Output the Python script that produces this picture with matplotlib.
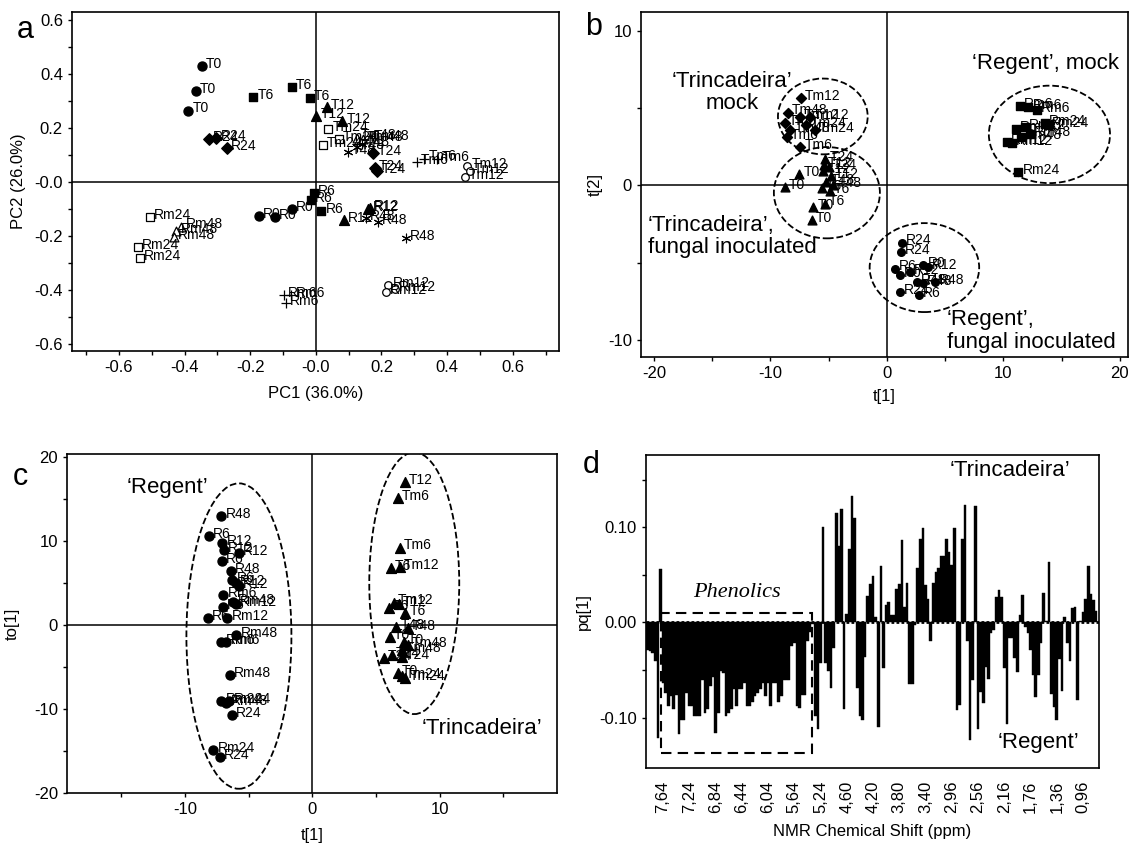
import matplotlib.pyplot as plt
import numpy as np
from matplotlib.patches import Ellipse, Rectangle

plt.rcParams['font.family'] = ['Liberation Sans', 'DejaVu Sans']
plt.rcParams['axes.linewidth'] = 1.2

# ---------------- panel a: PCA scores ----------------
a_labels = ["T0", "T0", "T0", "T6", "T6", "T6", "T12", "T12", "T12",
            "R24", "R24", "R24", "Rm24", "Rm24", "Rm24", "Rm48", "Rm48", "Rm48",
            "R0", "R0", "R0", "R6", "R6", "R6", "Rm6", "Rm6", "Rm6",
            "R12", "R12", "R12", "R48", "R48", "R48", "Rm12", "Rm12", "Rm12",
            "Tm24", "Tm24", "Tm24", "Tm48", "Tm48", "Tm48", "T48", "T48", "T48",
            "T24", "T24", "T24", "Tm6", "Tm6", "Tm6", "Tm12", "Tm12", "Tm12"]
a_x = [-0.348, -0.366, -0.388, -0.191, -0.073, -0.019, 0.002, 0.033, 0.081,
       -0.325, -0.303, -0.272, -0.506, -0.542, -0.537, -0.410, -0.425, -0.432,
       -0.173, -0.125, -0.074, -0.005, -0.015, 0.017, -0.098, -0.091, -0.075,
       0.160, 0.165, 0.085, 0.152, 0.188, 0.274, 0.221, 0.213, 0.240,
       0.038, 0.022, 0.070, 0.125, 0.145, 0.165, 0.098, 0.125, 0.140,
       0.175, 0.180, 0.187, 0.307, 0.330, 0.370, 0.462, 0.454, 0.470]
a_y = [0.431, 0.337, 0.265, 0.316, 0.351, 0.312, 0.246, 0.277, 0.226,
       0.160, 0.164, 0.127, -0.128, -0.242, -0.283, -0.165, -0.180, -0.205,
       -0.126, -0.131, -0.100, -0.040, -0.067, -0.106, -0.419, -0.447, -0.418,
       -0.101, -0.095, -0.141, -0.135, -0.147, -0.209, -0.381, -0.409, -0.395,
       0.195, 0.137, 0.160, 0.165, 0.160, 0.163, 0.112, 0.130, 0.140,
       0.106, 0.051, 0.040, 0.073, 0.087, 0.085, 0.060, 0.020, 0.040]

# ---------------- panel b: PLS-DA scores ----------------
b_labels = ["Tm12", "Tm48", "Tm12", "Tm12", "Tm6", "Tm48", "Tm24", "Tm24", "Tm6", "Tm6",
            "T0", "T0", "T0", "T0", "T6", "T24", "T24", "T12", "T12", "T48", "T48", "T6", "T6", "T12",
            "Rm6", "Rm6", "Rm6", "Rm48", "Rm12", "Rm24", "Rm24", "Rm12", "Rm12", "Rm48", "Rm48", "Rm24",
            "R24", "R24", "R6", "R0", "R0", "R12", "R48", "R48", "R48", "R24", "R6", "R12"]
b_x = [-7.4, -8.5, -7.5, -6.6, -8.75, -8.3, -6.9, -6.2, -8.6, -7.45,
       -8.76, -7.52, -6.32, -6.46, -5.32, -5.3, -5.0, -5.5, -4.8, -5.2, -4.6, -5.6, -4.9, -5.4,
       11.42, 12.13, 12.85, 11.07, 11.85, 13.56, 13.80, 10.27, 10.70, 11.50, 12.30, 11.28,
       1.26, 1.20, 0.69, 1.12, 3.12, 3.50, 2.55, 3.10, 4.12, 1.12, 2.75, 2.00]
b_y = [5.65, 4.7, 4.4, 4.4, 4.0, 3.55, 3.9, 3.6, 3.1, 2.47,
       -0.1, 0.75, -1.4, -2.26, -1.18, 1.7, 1.2, 0.9, 0.6, 0.2, 0.0, -0.2, -0.4, 1.3,
       5.10, 5.05, 4.88, 3.66, 3.76, 4.02, 3.87, 2.80, 2.73, 3.10, 3.30, 0.86,
       -3.70, -4.30, -5.38, -5.80, -5.16, -5.30, -6.24, -6.30, -6.24, -6.92, -7.10, -5.60]

# ---------------- panel c: OPLS-DA scores ----------------
c_labels = ["R48", "R6", "R12", "R12", "R12", "R6", "R48", "R6", "R12", "R12", "Rm6", "Rm48",
            "Rm12", "R6", "R6", "Rm12", "Rm48", "Rm6", "Rm6", "Rm48", "Rm24", "Rm48", "Rm24",
            "R24", "Rm24", "R24",
            "T12", "Tm6", "Tm6", "T6", "Tm12", "T6", "Tm12", "T12", "T6", "T48", "T48", "T0",
            "T0", "Tm48", "Tm48", "T24", "T24", "T24", "T0", "Tm24", "Tm24"]
c_x = [-7.14, -8.13, -7.06, -6.93, -5.75, -7.08, -6.40, -6.27, -6.00, -5.75, -6.98, -6.20,
       -6.00, -7.00, -8.18, -6.67, -5.96, -7.14, -6.75, -6.46, -7.14, -6.75, -6.50,
       -6.30, -7.76, -7.27,
       7.24, 6.72, 6.85, 6.16, 6.85, 6.00, 6.40, 6.80, 7.30, 6.60, 7.50, 6.06,
       7.20, 7.50, 7.00, 5.60, 6.25, 7.03, 6.72, 7.00, 7.30]
c_y = [13.0, 10.6, 9.8, 9.0, 8.6, 7.6, 6.5, 5.4, 5.0, 4.7, 3.57, 2.8,
       2.5, 2.2, 0.8, 0.9, -1.2, -2.06, -2.06, -5.95, -9.05, -9.25, -9.05,
       -10.7, -14.9, -15.7,
       17.06, 15.1, 9.25, 6.8, 6.94, 2.0, 2.7, 2.5, 1.4, -0.2, -0.3, -1.47,
       -2.0, -2.4, -3.0, -3.97, -3.57, -3.85, -5.75, -6.1, -6.3]

# ---------------- panel d: loadings ----------------
d_ticklabels = ["7,64", "7,24", "6,84", "6,44", "6,04", "5,64", "5,24", "4,60", "4,20",
                "3,80", "3,40", "2,96", "2,56", "2,16", "1,76", "1,36", "0,96"]
d_values = [
    -0.029, -0.030, -0.032, -0.041, -0.121, 0.056, -0.064, -0.074, -0.088, -0.077,
    -0.091, -0.076, -0.117, -0.103, -0.103, -0.074, -0.088, -0.088, -0.098, -0.098,
    -0.098, -0.060, -0.095, -0.091, -0.067, -0.057, -0.116, -0.095, -0.051, -0.053,
    -0.098, -0.095, -0.091, -0.070, -0.088, -0.070, -0.070, -0.064, -0.088, -0.088,
    -0.084, -0.077, -0.074, -0.070, -0.064, -0.077, -0.064, -0.088, -0.064, -0.064,
    -0.084, -0.077, -0.060, -0.060, -0.060, -0.025, -0.022, -0.088, -0.090, -0.076,
    -0.076, -0.020, -0.010, -0.002, -0.098, -0.112, -0.043, 0.100, -0.043, -0.051,
    -0.069, -0.027, 0.115, 0.080, 0.119, -0.091, 0.009, 0.077, 0.133, 0.110,
    -0.069, -0.098, -0.103, -0.036, 0.028, 0.040, 0.049, 0.006, -0.110, 0.059,
    -0.048, 0.018, 0.022, 0.008, 0.008, 0.035, 0.040, 0.087, 0.016, 0.041,
    -0.065, -0.065, -0.003, 0.057, 0.088, 0.099, 0.039, 0.025, -0.019, 0.041,
    0.053, 0.057, 0.070, 0.070, 0.088, 0.074, 0.060, 0.099, -0.092, -0.087,
    0.088, 0.123, -0.019, -0.124, -0.060, 0.122, -0.112, -0.073, -0.085, -0.047,
    -0.059, -0.011, -0.008, 0.027, 0.034, 0.027, -0.048, -0.107, -0.016, -0.016,
    -0.037, -0.052, 0.008, 0.029, -0.005, -0.011, -0.029, -0.055, -0.078, -0.055,
    -0.022, 0.031, 0.002, 0.064, -0.075, -0.089, -0.103, -0.038, -0.072, 0.006,
    -0.022, -0.041, 0.015, 0.016, -0.082, 0.002, 0.011, 0.025, 0.059, 0.030,
    0.024, 0.012]

fig = plt.figure(figsize=(11.3, 8.47), dpi=100)
ax_a = fig.add_axes([0.0637, 0.5856, 0.431, 0.4002])
ax_b = fig.add_axes([0.5673, 0.5785, 0.431, 0.4073])
ax_c = fig.add_axes([0.0593, 0.0638, 0.4336, 0.4002])
ax_d = fig.add_axes([0.5717, 0.0933, 0.4009, 0.3695])

filled = dict(facecolors="black", edgecolors="black")
hollow = dict(facecolors="white", edgecolors="black", linewidths=0.9)
a_style = {
    "0": dict(marker="o", s=42, **filled),
    "6": dict(marker="s", s=38, **filled),
    "12": dict(marker="^", s=50, **filled),
    "24": dict(marker="D", s=34, **filled),
    "48": dict(marker=(6, 2, 0), s=40, c="black", linewidths=0.8),
    "m6": dict(marker="+", s=45, c="black", linewidths=0.9),
    "m12": dict(marker="o", s=30, **hollow),
    "m24": dict(marker="s", s=34, **hollow),
    "m48": dict(marker="^", s=40, **hollow),
}


def scatter_labeled(ax, xs, ys, labels, style_of):
    for x, y, lab in zip(xs, ys, labels):
        ax.scatter([x], [y], zorder=3, **style_of(lab))
        ax.annotate(lab, (x, y), xytext=(3, 1.5), textcoords="offset points",
                    fontsize=10, va="center", ha="left", zorder=4)


def frame(ax):
    ax.axhline(0, color="black", lw=1.1, zorder=1)
    ax.axvline(0, color="black", lw=1.1, zorder=1)
    ax.tick_params(direction="out", length=3, width=1, labelsize=12)


# panel a
scatter_labeled(ax_a, a_x, a_y, a_labels, lambda l: a_style[l[1:]])
frame(ax_a)
ax_a.set_xlim(-0.743, 0.741)
ax_a.set_ylim(-0.626, 0.63)
a_ticks = [round(v, 1) for v in np.arange(-0.7, 0.71, 0.1)]
ax_a.set_xticks(a_ticks, ["" if int(round(abs(v) * 10)) % 2 else ("-0.0" if v == 0 else f"{v:.1f}") for v in a_ticks])
a_yt = [round(v, 1) for v in np.arange(-0.6, 0.61, 0.1)]
ax_a.set_yticks(a_yt, ["" if int(round(abs(v) * 10)) % 2 else ("-0.0" if v == 0 else f"{v:.1f}") for v in a_yt])
ax_a.set_xlabel("PC1 (36.0%)", fontsize=12, labelpad=8)
ax_a.set_ylabel("PC2 (26.0%)", fontsize=12, labelpad=6)

# panel b
b_style = {"Tm": dict(marker="D", s=26, **filled), "T": dict(marker="^", s=40, **filled),
           "Rm": dict(marker="s", s=30, **filled), "R": dict(marker="o", s=30, **filled)}
scatter_labeled(ax_b, b_x, b_y, b_labels,
                lambda l: b_style[l[:2]] if l[1] == "m" else b_style[l[0]])
frame(ax_b)
ax_b.set_xlim(-21.1, 20.7)
ax_b.set_ylim(-11.1, 11.2)
ax_b.set_xticks([-20, -15, -10, -5, 0, 5, 10, 15, 20], ["-20", "", "-10", "", "0", "", "10", "", "20"])
ax_b.set_yticks([-10, -5, 0, 5, 10], ["-10", "", "0", "", "10"])
for cx, cy, w, h in [(-5.5, 4.45, 7.7, 4.9), (-5.15, -0.48, 9.1, 5.9),
                     (13.95, 3.29, 10.4, 6.3), (3.22, -5.32, 9.4, 5.75)]:
    ax_b.add_patch(Ellipse((cx, cy), w, h, fill=False, ls="--", lw=1.3, color="black"))
ax_b.text(-13.3, 6.0, "\u2018Trincadeira\u2019\nmock", fontsize=16, ha="center", va="center",
          linespacing=1.1)
ax_b.text(-20.5, -3.3, "\u2018Trincadeira\u2019,\nfungal inoculated", fontsize=16, ha="left",
          va="center", linespacing=1.1)
ax_b.text(13.6, 7.9, "\u2018Regent\u2019, mock", fontsize=16, ha="center", va="center")
ax_b.text(5.15, -9.4, "\u2018Regent\u2019,\nfungal inoculated", fontsize=16, ha="left",
          va="center", linespacing=1.1)
ax_b.set_xlabel("t[1]", fontsize=12, labelpad=6)
ax_b.set_ylabel("t[2]", fontsize=12, labelpad=4)

# panel c
c_style = {"R": dict(marker="o", s=42, **filled), "T": dict(marker="^", s=50, **filled)}
scatter_labeled(ax_c, c_x, c_y, c_labels, lambda l: c_style[l[0]])
frame(ax_c)
ax_c.set_xlim(-19.25, 19.2)
ax_c.set_ylim(-20, 20.4)
ax_c.set_xticks([-15, -10, -5, 0, 5, 10, 15], ["", "-10", "", "0", "", "10", ""])
ax_c.set_yticks([-20, -15, -10, -5, 0, 5, 10, 15, 20], ["-20", "", "-10", "", "0", "", "10", "", "20"])
ax_c.add_patch(Ellipse((-5.76, -1.3), 8.24, 36.4, fill=False, ls="--", lw=1.3, color="black"))
ax_c.add_patch(Ellipse((8.0, 5.0), 7.06, 31.2, fill=False, ls="--", lw=1.3, color="black"))
ax_c.text(-11.4, 16.4, "\u2018Regent\u2019", fontsize=16, ha="center", va="center")
ax_c.text(13.3, -12.3, "\u2018Trincadeira\u2019", fontsize=16, ha="center", va="center")
ax_c.set_xlabel("t[1]", fontsize=12, labelpad=8)
ax_c.set_ylabel("to[1]", fontsize=12, labelpad=10)

# panel d
idx = np.arange(len(d_values))
ax_d.bar(idx, d_values, width=1.0, color="black", edgecolor="black", linewidth=0.3, zorder=2)
ax_d.axhline(0, color="black", lw=2, ls=(0, (1, 0.8)), zorder=3)
ax_d.set_xlim(-0.5, 172.1)
ax_d.set_ylim(-0.153, 0.176)
ax_d.set_xticks(6 + 10 * np.arange(len(d_ticklabels)), d_ticklabels, rotation=90)
ax_d.set_yticks([-0.10, -0.05, 0.0, 0.05, 0.10, 0.15], ["-0.10", "", "0.00", "", "0.10", ""])
ax_d.tick_params(axis="y", direction="out", length=3, width=1, labelsize=12)
ax_d.tick_params(axis="x", length=0, labelsize=12, pad=9)
ax_d.add_patch(Rectangle((5.1, -0.137), 57.7, 0.147, fill=False, ls=(0, (5, 3)), lw=1.5,
                         color="black", zorder=4))
ax_d.text(34, 0.031, "Phenolics", fontsize=16, ha="center", va="center",
          family="Liberation Serif", style="italic")
ax_d.text(138, 0.160, "\u2018Trincadeira\u2019", fontsize=16, ha="center", va="center")
ax_d.text(149, -0.126, "\u2018Regent\u2019", fontsize=16, ha="center", va="center")
ax_d.set_xlabel("NMR Chemical Shift (ppm)", fontsize=12, labelpad=8)
ax_d.set_ylabel("pq[1]", fontsize=12, labelpad=6)

for ax, letter, lx, ly in [(ax_a, "a", -0.113, 0.947), (ax_b, "b", -0.115, 0.957),
                           (ax_c, "c", -0.110, 0.932), (ax_d, "d", -0.139, 0.968)]:
    ax.text(lx, ly, letter, transform=ax.transAxes, fontsize=22, ha="left", va="center")

fig.savefig("out.png", dpi=100)
